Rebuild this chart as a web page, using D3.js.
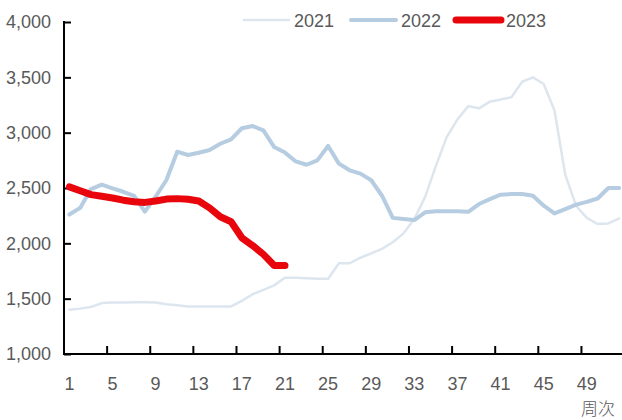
<!DOCTYPE html>
<html>
<head>
<meta charset="utf-8">
<script src="https://cdn.jsdelivr.net/npm/d3@7"></script>
<style>
  body { margin: 0; background: #fff; }
  svg { display: block; }
  text { font-family: "Liberation Sans", Arial, sans-serif; fill: #595959; }
</style>
</head>
<body>
<script>
// weekly values
const weeks = d3.range(1, 53);
const s2021 = [1400, 1410, 1425, 1460, 1465, 1465, 1468, 1468, 1465, 1450, 1440, 1430, 1430,
  1430, 1430, 1430, 1480, 1540, 1580, 1620, 1690, 1690, 1685, 1680, 1680, 1820, 1820, 1870,
  1910, 1950, 2010, 2090, 2220, 2420, 2700, 2960, 3120, 3240, 3220, 3280, 3300, 3320, 3460,
  3500, 3440, 3200, 2620, 2340, 2230, 2175, 2180, 2225];
const s2022 = [2260, 2320, 2490, 2530, 2497, 2466, 2428, 2286, 2421, 2572, 2828, 2798, 2819,
  2843, 2900, 2940, 3040, 3060, 3020, 2870, 2820, 2740, 2710, 2750, 2880, 2720, 2660, 2630,
  2570, 2430, 2230, 2220, 2210, 2280, 2290, 2290, 2290, 2285, 2355, 2400, 2440, 2445, 2445,
  2430, 2340, 2270, 2310, 2350, 2375, 2405, 2500, 2500];
const s2023 = [2510, 2475, 2440, 2425, 2410, 2390, 2376, 2370, 2382, 2400, 2404, 2398, 2382,
  2320, 2240, 2195, 2050, 1980, 1900, 1800, 1800];
const yTicks = [1000, 1500, 2000, 2500, 3000, 3500, 4000];
const xLabels = [1, 5, 9, 13, 17, 21, 25, 29, 33, 37, 41, 45, 49];
const seriesNames = ["2021", "2022", "2023"];

const width = 622, height = 420;
const plotLeft = 64, plotBottom = 354, plotTop = 22;
const fontSize = "18px";

const svg = d3.select("body").append("svg")
  .attr("width", width)
  .attr("height", height);

const x = d3.scaleBand()
  .domain(weeks)
  .range([plotLeft, plotLeft + 52 * 10.78])
  .padding(0);

const y = d3.scaleLinear()
  .domain([1000, 4000])
  .range([plotBottom, plotTop]);

const color = d3.scaleOrdinal()
  .domain(seriesNames)
  .range(["#dde6ef", "#b6cce1", "#e8060c"]);
const lineWidth = { "2021": 2.5, "2022": 4, "2023": 7 };

// y axis
const yAxis = svg.append("g")
  .attr("transform", "translate(" + plotLeft + ",0)")
  .call(d3.axisLeft(y).tickValues(yTicks).tickFormat(d3.format(","))
    .tickSize(-7).tickSizeOuter(0).tickPadding(13));
yAxis.select(".domain").remove();
yAxis.selectAll("line").attr("stroke", "#000").attr("stroke-width", 2);
yAxis.selectAll("text").style("font-size", fontSize)
  .style("font-family", "'Liberation Sans', Arial, sans-serif")
  .attr("fill", "#595959");

svg.append("line")
  .attr("x1", plotLeft).attr("x2", plotLeft)
  .attr("y1", plotTop - 1).attr("y2", plotBottom + 1)
  .attr("stroke", "#000").attr("stroke-width", 2);

// x axis (ticks between categories, every 4 weeks)
svg.append("line")
  .attr("x1", plotLeft - 1).attr("x2", width)
  .attr("y1", plotBottom).attr("y2", plotBottom)
  .attr("stroke", "#000").attr("stroke-width", 2);

svg.append("g")
  .selectAll("line")
  .data(xLabels.slice(1))
  .enter().append("line")
  .attr("x1", d => x(d)).attr("x2", d => x(d))
  .attr("y1", plotBottom).attr("y2", plotBottom - 8)
  .attr("stroke", "#000").attr("stroke-width", 2);

svg.append("g")
  .selectAll("text")
  .data(xLabels)
  .enter().append("text")
  .attr("x", d => x(d) + x.bandwidth() / 2)
  .attr("y", 390)
  .attr("text-anchor", "middle")
  .style("font-size", fontSize)
  .text(d => d);

svg.append("text")
  .attr("x", 581)
  .attr("y", 415)
  .style("font-family", "'Noto Sans CJK SC', sans-serif")
  .style("font-size", "17px")
  .style("font-weight", 300)
  .text("周次");

// lines
const line = d3.line()
  .x((d, i) => x(weeks[i]) + x.bandwidth() / 2)
  .y(d => y(d));

const series = [
  { name: "2021", values: s2021 },
  { name: "2022", values: s2022 },
  { name: "2023", values: s2023 }
];

svg.append("defs").append("clipPath").attr("id", "plot")
  .append("rect").attr("x", plotLeft).attr("y", 0)
  .attr("width", width - plotLeft).attr("height", plotBottom);

svg.append("g")
  .attr("clip-path", "url(#plot)")
  .selectAll("path")
  .data(series)
  .enter().append("path")
  .attr("d", d => line(d.values))
  .attr("fill", "none")
  .attr("stroke", d => color(d.name))
  .attr("stroke-width", d => lineWidth[d.name])
  .attr("stroke-linejoin", "round")
  .attr("stroke-linecap", "round");

// legend
const legendX = [244, 351, 456];
const legend = svg.append("g");
seriesNames.forEach((name, i) => {
  legend.append("line")
    .attr("x1", legendX[i]).attr("x2", legendX[i] + 45)
    .attr("y1", 20).attr("y2", 20)
    .attr("stroke", color(name))
    .attr("stroke-width", lineWidth[name])
    .attr("stroke-linecap", "round");
  legend.append("text")
    .attr("x", legendX[i] + 50)
    .attr("y", 27)
    .style("font-size", fontSize)
    .text(name);
});
</script>
</body>
</html>
